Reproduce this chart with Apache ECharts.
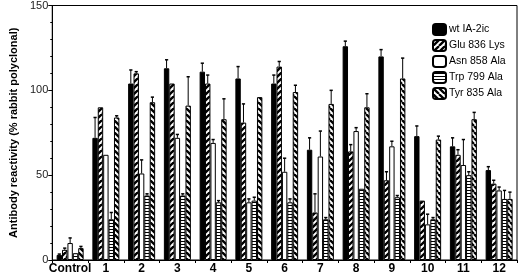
<!DOCTYPE html>
<html>
<head>
<meta charset="utf-8">
<script src="https://cdn.jsdelivr.net/npm/echarts@6/dist/echarts.min.js"></script>
<style>html,body{margin:0;padding:0;background:#fff}#c{width:520px;height:278px}</style>
</head>
<body>
<div id="c"></div>
<script>
const categories = ['Control','1','2','3','4','5','6','7','8','9','10','11','12'];
const seriesNames = ['wt IA-2ic','Glu 836 Lys','Asn 858 Ala','Trp 799 Ala','Tyr 835 Ala'];
const wt     = [3, 72, 104, 113, 111, 107, 104, 65, 126, 120, 73, 67, 53];
const wtErr  = [0.5, 12, 8, 5, 5, 7, 5, 7, 3, 4, 6, 5, 2];
const glu    = [6, 90, 110, 104, 104, 81, 114, 28, 64, 47, 35, 62, 45];
const gluErr = [1, 0, 1, 0, 5, 11, 3, 11, 4, 5, 0, 3, 2];
const asn    = [10, 62, 51, 72, 69, 34, 52, 61, 76, 67, 21, 56, 41];
const asnErr = [3, 0, 8, 2, 2, 2, 8, 15, 2, 3, 6, 15, 2];
const trp    = [4, 24, 38, 38, 34, 35, 34, 24, 42, 37, 24, 50, 36];
const trpErr = [0, 4, 1, 1, 1, 2, 2, 1, 0, 1, 1, 2, 5];
const tyr    = [7, 84, 93, 91, 83, 96, 99, 92, 90, 107, 71, 83, 36];
const tyrErr = [1, 1, 3, 17, 12, 0, 4, 8, 8, 12, 2, 4, 4];
const yTicks = [0, 50, 100, 150];

const values = [wt, glu, asn, trp, tyr];
const errors = [wtErr, gluErr, asnErr, trpErr, tyrErr];

function pattern(kind){
  const c = document.createElement('canvas');
  const ctx = c.getContext('2d');
  if (kind === 'solid') { c.width = c.height = 4; ctx.fillStyle = '#000'; ctx.fillRect(0,0,4,4); return c; }
  if (kind === 'white') { c.width = c.height = 4; ctx.fillStyle = '#fff'; ctx.fillRect(0,0,4,4); return c; }
  if (kind === 'horiz') {
    c.width = 4; c.height = 3;
    ctx.fillStyle = '#fff'; ctx.fillRect(0,0,4,3);
    ctx.fillStyle = '#000'; ctx.fillRect(0,1,4,1);
    return c;
  }
  const s = 6;
  c.width = c.height = s;
  ctx.fillStyle = '#fff'; ctx.fillRect(0,0,s,s);
  ctx.strokeStyle = '#000'; ctx.lineWidth = 2.3;
  ctx.beginPath();
  if (kind === 'fwd') {
    for (const o of [-s, 0, s]) { ctx.moveTo(o, s); ctx.lineTo(o + s, 0); }
  } else {
    for (const o of [-s, 0, s]) { ctx.moveTo(o, 0); ctx.lineTo(o + s, s); }
  }
  ctx.stroke();
  return c;
}
const fills = [
  '#000',
  {image: pattern('fwd'), repeat: 'repeat'},
  '#fff',
  {image: pattern('horiz'), repeat: 'repeat'},
  {image: pattern('back'), repeat: 'repeat'}
];

const BW = 5.4;
const series = [];
seriesNames.forEach((name, i) => {
  series.push({
    name: name, type: 'bar', data: values[i], barWidth: BW, barGap: '0%',
    itemStyle: {color: fills[i], borderColor: '#000', borderWidth: 1},
    z: 2
  });
});
seriesNames.forEach((name, i) => {
  const off = (i - 2) * BW;
  series.push({
    type: 'custom', z: 3, silent: true,
    encode: {x: 0, y: 1},
    data: values[i].map((v, k) => [k, v, errors[i][k]]),
    renderItem: function(params, api){
      const k = api.value(0), v = api.value(1), e = api.value(2);
      if (!e) return null;
      const b = api.coord([k, v]);
      const t = api.coord([k, v + e]);
      const x = b[0] + off;
      return {type: 'group', children: [
        {type: 'line', shape: {x1: x, y1: b[1], x2: x, y2: t[1]}, style: {stroke: '#000', lineWidth: 1}},
        {type: 'line', shape: {x1: x - 1.6, y1: t[1], x2: x + 1.6, y2: t[1]}, style: {stroke: '#000', lineWidth: 1.5}}
      ]};
    }
  });
});

const chart = echarts.init(document.getElementById('c'), null, {renderer: 'canvas'});
chart.setOption({
  animation: false,
  textStyle: {fontFamily: 'Liberation Sans'},
  grid: {left: 48, right: 3, top: 5, bottom: 18, show: true, borderColor: '#000', borderWidth: 1},
  legend: {
    data: seriesNames, orient: 'vertical', left: 427, top: 18,
    itemWidth: 13, itemHeight: 11, itemGap: 3,
    textStyle: {fontSize: 10.5, color: '#000', fontFamily: 'Liberation Sans', padding: [0,0,0,-2]},
    selectedMode: false
  },
  xAxis: {
    type: 'category', data: categories,
    axisLine: {lineStyle: {color: '#000', width: 1}},
    axisTick: {show: true, length: 3, lineStyle: {color: '#000'}},
    axisLabel: {fontSize: 12, fontWeight: 'bold', color: '#000', margin: 3, interval: 0}
  },
  yAxis: {
    type: 'value', min: yTicks[0], max: yTicks[yTicks.length - 1], interval: 50,
    name: 'Antibody reactivity (% rabbit polyclonal)', nameLocation: 'middle', nameGap: 30,
    nameTextStyle: {fontSize: 11, fontWeight: 'bold', color: '#000'},
    axisLine: {show: true, lineStyle: {color: '#000', width: 1}},
    axisTick: {show: true, length: 4, lineStyle: {color: '#000'}},
    minorTick: {show: true, splitNumber: 5, length: 2, lineStyle: {color: '#000'}},
    splitLine: {show: false},
    axisLabel: {fontSize: 11, color: '#222', margin: 4}
  },
  series: series
});
</script>
</body>
</html>
